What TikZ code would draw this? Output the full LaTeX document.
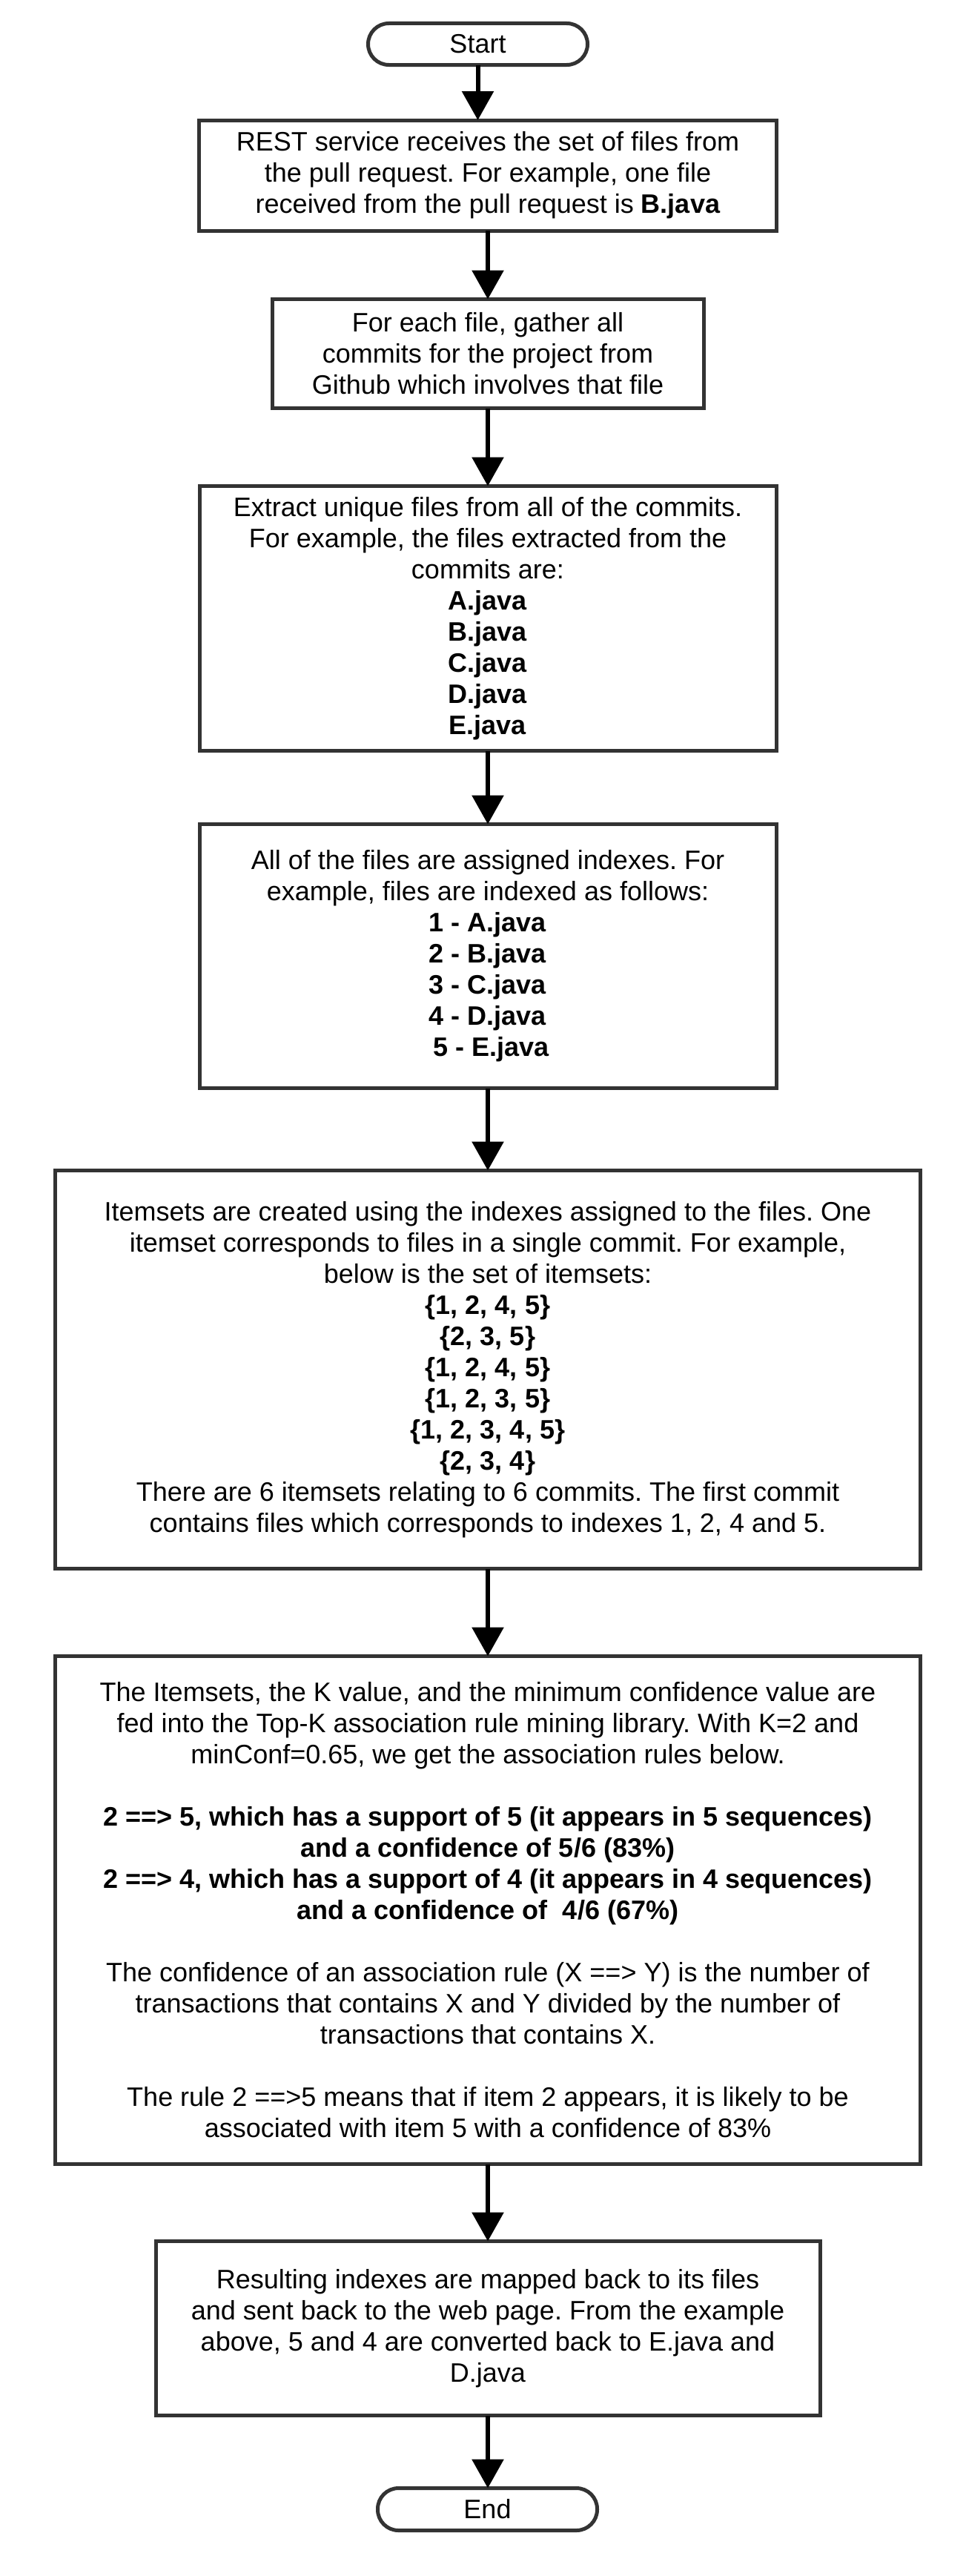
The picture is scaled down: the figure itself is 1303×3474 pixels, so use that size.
\documentclass[tikz,border=0pt]{standalone}
\usepackage{fontspec}
\setmainfont{Liberation Sans}
\usetikzlibrary{arrows.meta}
\definecolor{boxline}{HTML}{333333}
\frenchspacing
\tikzset{
  box/.style={draw=boxline, line width=5pt, fill=white, rectangle, outer sep=0pt, inner sep=4pt,
    align=center, font=\fontsize{36}{42}\selectfont\frenchspacing, text=black},
  term/.style={box, rounded corners=28pt},
  arr/.style={draw=black, line width=6pt, -{Triangle[length=39pt,width=42pt]}}
}
\begin{document}
\begin{tikzpicture}[x=1pt,y=-1pt]
\useasboundingbox[fill=white] (0,0) rectangle (1303,3474);

\node[term, minimum width=296pt, minimum height=56pt] (start) at (644.5,59.5) {Start};

\node[box, minimum width=779pt, minimum height=149pt] (b1) at (658,236.5)
 {REST service receives the set of files from\\
  the pull request. For example, one file\\
  received from the pull request is \textbf{B.java}};

\node[box, minimum width=582pt, minimum height=147pt] (b2) at (658,477)
 {For each file, gather all\\
  commits for the project from\\
  Github which involves that file};

\node[box, minimum width=778pt, minimum height=357pt] (b3) at (658,834)
 {Extract unique files from all of the commits.\\
  For example, the files extracted from the\\
  commits are:\\
  \textbf{A.java}\\
  \textbf{B.java}\\
  \textbf{C.java}\\
  \textbf{D.java}\\
  \textbf{E.java}};

\node[box, minimum width=778pt, minimum height=356pt] (b4) at (658,1289.5)
 {All of the files are assigned indexes. For\\
  example, files are indexed as follows:\\
  \textbf{1 - A.java}\\
  \textbf{2 - B.java}\\
  \textbf{3 - C.java}\\
  \textbf{4 - D.java}\\
  \textbf{\ 5 - E.java}};

\node[box, minimum width=1167pt, minimum height=537pt] (b5) at (658,1847)
 {Itemsets are created using the indexes assigned to the files. One\\
  itemset corresponds to files in a single commit. For example,\\
  below is the set of itemsets:\\
  \textbf{\{1, 2, 4, 5\}}\\
  \textbf{\{2, 3, 5\}}\\
  \textbf{\{1, 2, 4, 5\}}\\
  \textbf{\{1, 2, 3, 5\}}\\
  \textbf{\{1, 2, 3, 4, 5\}}\\
  \textbf{\{2, 3, 4\}}\\
  There are 6 itemsets relating to 6 commits. The first commit\\
  contains files which corresponds to indexes 1, 2, 4 and 5.};

\node[box, minimum width=1167pt, minimum height=685pt] (b6) at (658,2576)
 {The Itemsets, the K value, and the minimum confidence value are\\
  fed into the Top-K association rule mining library. With K=2 and\\
  minConf=0.65, we get the association rules below.\\[42pt]
  \textbf{2 ==> 5, which has a support of 5 (it appears in 5 sequences)}\\
  \textbf{and a confidence of 5/6 (83\%)}\\
  \textbf{2 ==> 4, which has a support of 4 (it appears in 4 sequences)}\\
  \textbf{and a confidence of\ \ 4/6 (67\%)}\\[42pt]
  The confidence of an association rule (X ==> Y) is the number of\\
  transactions that contains X and Y divided by the number of\\
  transactions that contains X.\\[42pt]
  The rule 2 ==>5 means that if item 2 appears, it is likely to be\\
  associated with item 5 with a confidence of 83\%};

\node[box, minimum width=896pt, minimum height=235pt] (b7) at (658,3140)
 {Resulting indexes are mapped back to its files\\
  and sent back to the web page. From the example\\
  above, 5 and 4 are converted back to E.java and\\
  D.java};

\node[term, minimum width=296pt, minimum height=57pt] (end) at (657.5,3384) {End};

\draw[arr] (start.south) -- (start.south |- b1.north);
\draw[arr] (b1) -- (b2);
\draw[arr] (b2) -- (b3);
\draw[arr] (b3) -- (b4);
\draw[arr] (b4) -- (b5);
\draw[arr] (b5) -- (b6);
\draw[arr] (b6) -- (b7);
\draw[arr] (b7.south) -- (b7.south |- end.north);
\end{tikzpicture}
\end{document}
